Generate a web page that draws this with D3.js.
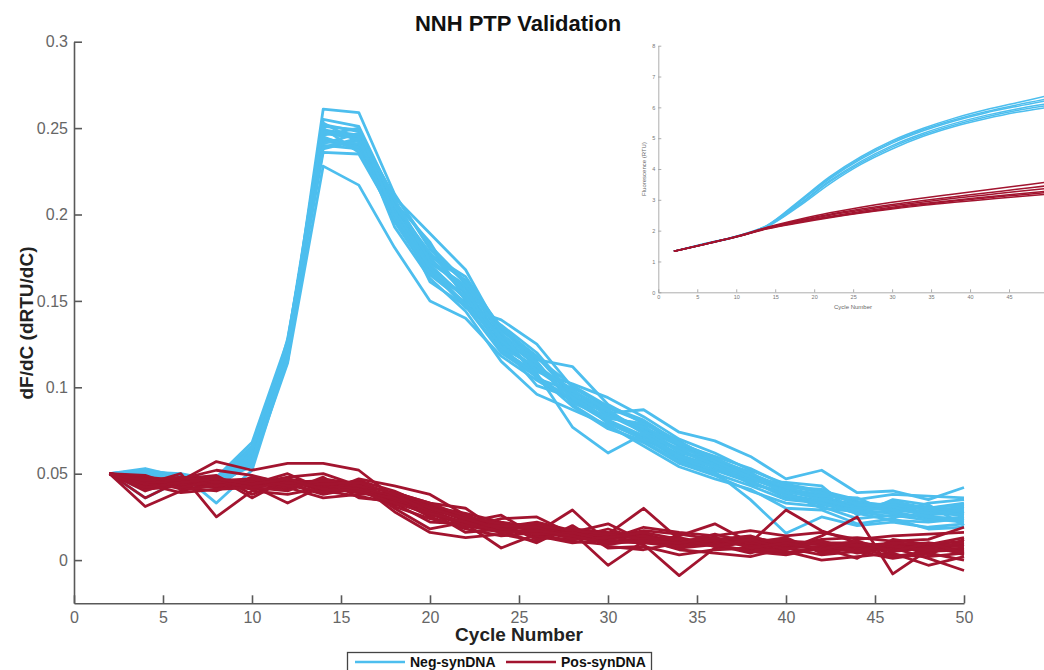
<!DOCTYPE html>
<html>
<head>
<meta charset="utf-8">
<script src="https://cdn.jsdelivr.net/npm/d3@7"></script>
<style>
  body { margin: 0; background: #fff; }
  svg { display: block; }
  text { font-family: "Liberation Sans", Arial, Helvetica, sans-serif; }
</style>
</head>
<body>
<svg id="chart" width="1044" height="670"></svg>
<script>
// cycles sampled in the derivative plot
const cycles = [2,4,6,8,10,12,14,16,18,20,22,24,26,28,30,32,34,36,38,40,42,44,46,48,50];
const xTicks = [0,5,10,15,20,25,30,35,40,45,50];
const yTicks = [0,0.05,0.1,0.15,0.2,0.25,0.3];
const yTickLabels = ["0","0.05","0.1","0.15","0.2","0.25","0.3"];

// dF/dC, Neg-synDNA replicates
const negSeries = [
  [.050,.052,.049,.046,.058,.119,.261,.259,.212,.180,.160,.130,.112,.098,.085,.076,.066,.058,.050,.041,.036,.032,.030,.027,.026],
  [.050,.049,.047,.044,.055,.114,.228,.217,.181,.150,.140,.118,.104,.092,.080,.070,.060,.052,.045,.038,.034,.029,.027,.025,.024],
  [.050,.036,.046,.047,.063,.122,.255,.251,.208,.176,.162,.133,.116,.112,.090,.079,.068,.057,.049,.040,.037,.031,.033,.029,.030],
  [.050,.047,.050,.033,.052,.117,.249,.246,.201,.170,.152,.122,.108,.077,.062,.073,.061,.054,.046,.036,.033,.027,.028,.024,.022],
  [.050,.051,.048,.048,.068,.127,.244,.240,.196,.165,.149,.125,.101,.094,.085,.087,.074,.069,.060,.047,.052,.039,.040,.035,.042],
  [.050,.046,.045,.042,.057,.121,.240,.238,.204,.174,.157,.128,.113,.097,.080,.071,.058,.051,.035,.0155,.025,.020,.022,.019,.021],
  [.050,.053,.048,.044,.061,.124,.236,.235,.199,.168,.146,.139,.125,.100,.088,.080,.066,.056,.048,.041,.038,.034,.031,.030,.033],
  [.050,.048,.047,.046,.064,.118,.252,.248,.210,.189,.168,.131,.115,.090,.077,.068,.056,.049,.040,.033,.031,.024,.026,.023,.025],
  [.050,.049,.046,.045,.060,.125,.247,.244,.193,.163,.144,.115,.096,.087,.078,.066,.054,.047,.041,.030,.029,.021,.024,.018,.019],
  [.050,.044,.049,.043,.056,.116,.243,.239,.206,.172,.158,.126,.109,.102,.094,.083,.070,.062,.052,.044,.040,.035,.038,.037,.036],
  [.050,.050,.048,.047,.066,.120,.238,.243,.197,.177,.164,.134,.118,.095,.086,.075,.064,.055,.044,.039,.030,.028,.025,.026,.028],
  [.050,.047,.044,.045,.059,.115,.250,.236,.203,.161,.147,.120,.106,.093,.081,.072,.059,.052,.049,.042,.036,.031,.029,.031,.027],
  [.050,.045,.047,.044,.062,.123,.246,.250,.200,.175,.154,.124,.111,.099,.083,.078,.062,.058,.051,.037,.034,.033,.030,.028,.031],
  [.050,.051,.050,.046,.054,.128,.242,.241,.207,.184,.150,.136,.120,.096,.079,.070,.065,.053,.046,.045,.043,.026,.035,.032,.020],
  [.050,.048,.049,.047,.061,.121,.248,.245,.205,.178,.155,.127,.110,.096,.084,.074,.063,.055,.047,.040,.035,.030,.029,.027,.029],
  [.050,.046,.046,.045,.059,.119,.241,.247,.202,.171,.151,.129,.114,.091,.083,.077,.067,.060,.053,.043,.039,.033,.032,.029,.026],
  [.050,.050,.047,.046,.063,.126,.253,.242,.209,.173,.159,.132,.105,.098,.087,.073,.060,.054,.045,.038,.032,.029,.034,.030,.032],
  [.050,.047,.048,.044,.058,.117,.245,.237,.198,.166,.153,.123,.112,.094,.082,.079,.069,.057,.048,.039,.037,.036,.027,.033,.035],
  [.050,.049,.045,.043,.057,.122,.239,.244,.211,.182,.161,.135,.117,.101,.089,.081,.068,.059,.050,.042,.041,.032,.031,.025,.023],
  [.050,.052,.047,.045,.065,.124,.251,.249,.200,.169,.148,.121,.107,.089,.076,.069,.057,.050,.043,.035,.033,.027,.023,.022,.024]
];

// dF/dC, Pos-synDNA replicates
const posSeries = [
  [.050,.031,.040,.044,.046,.043,.045,.040,.034,.027,.020,.016,.018,.014,.012,.015,.010,.012,.009,.008,.010,.007,.006,.008,.006],
  [.050,.048,.046,.057,.052,.056,.056,.052,.036,.025,.018,.014,.016,.029,.010,.013,.009,.011,.013,.010,.006,.009,.005,.007,.009],
  [.050,.044,.050,.025,.040,.038,.042,.039,.038,.032,.024,.020,.013,.012,.015,.030,.012,.008,.006,.004,.008,.011,.003,.002,.004],
  [.050,.046,.043,.047,.045,.041,.047,.044,.035,.029,.025,.019,.022,.017,.011,.010,.014,.021,.010,.029,.017,.010,.008,.009,.011],
  [.050,.040,.047,.049,.038,.046,.040,.037,.033,.022,.021,.007,.015,.011,.009,.012,.006,.004,.002,.007,.003,.005,.001,.004,.000],
  [.050,.045,.044,.042,.043,.033,.043,.046,.040,.031,.027,.022,.019,.016,-.003,.011,.008,.010,.012,.009,.011,.006,.009,.010,.008],
  [.050,.042,.048,.046,.047,.044,.038,.042,.037,.028,.016,.018,.020,.014,.014,.009,-.009,.007,.011,.012,.005,.008,.010,.003,.012],
  [.050,.047,.041,.043,.044,.048,.050,.043,.032,.030,.023,.021,.012,.018,.016,.014,.011,.013,.008,.006,.014,.025,-.008,.006,.005],
  [.050,.043,.045,.045,.041,.042,.036,.038,.039,.033,.030,.016,.017,.013,.018,.012,.013,.009,.004,.011,.009,.004,.007,.001,-.006],
  [.050,.049,.042,.040,.048,.045,.046,.041,.031,.024,.019,.024,.025,.015,.013,.017,.015,.012,.014,.008,.012,.013,.011,.012,.019],
  [.050,.036,.046,.048,.036,.047,.044,.045,.030,.018,.022,.017,.010,.020,.007,.008,.003,.006,.007,.005,.000,.002,.004,-.003,.002],
  [.050,.044,.039,.041,.042,.040,.048,.036,.034,.026,.022,.026,.014,.010,.012,.019,.016,.014,.017,.014,.016,.012,.014,.015,.016],
  [.050,.046,.047,.052,.049,.044,.039,.047,.043,.038,.026,.019,.021,.016,.021,.011,.007,.009,.005,.003,.007,.001,.012,.009,.003],
  [.050,.041,.043,.045,.044,.050,.041,.044,.028,.016,.013,.015,.011,.019,.008,.006,.010,.015,.010,.013,.004,.007,.002,.005,.007],
  [.050,.045,.045,.046,.045,.044,.045,.042,.037,.031,.023,.019,.018,.015,.014,.013,.011,.010,.009,.010,.009,.008,.007,.008,.008],
  [.050,.043,.044,.044,.043,.046,.043,.041,.035,.029,.021,.017,.016,.013,.012,.014,.009,.011,.010,.007,.008,.006,.009,.005,.006],
  [.050,.047,.046,.043,.046,.042,.046,.043,.039,.033,.025,.021,.020,.017,.015,.012,.012,.009,.011,.011,.010,.010,.006,.007,.010],
  [.050,.044,.042,.046,.042,.045,.042,.039,.036,.030,.024,.018,.015,.016,.011,.010,.008,.012,.008,.009,.007,.009,.008,.006,.005],
  [.050,.046,.048,.045,.047,.043,.044,.045,.038,.028,.020,.020,.019,.012,.013,.016,.012,.008,.012,.006,.011,.005,.010,.009,.013],
  [.050,.042,.045,.047,.044,.047,.041,.040,.033,.027,.022,.016,.017,.014,.010,.011,.010,.013,.007,.010,.006,.011,.005,.010,.004]
];

// inset: raw fluorescence (RTU)
const insetCycles = [2,6,10,14,18,22,26,30,34,38,42,46,50];
const insetXTicks = [0,5,10,15,20,25,30,35,40,45];
const insetYTicks = [0,1,2,3,4,5,6,7,8];
const insetNeg = [
  [1.33,1.58,1.82,2.18,2.95,3.75,4.40,4.92,5.32,5.65,5.92,6.15,6.38],
  [1.33,1.57,1.80,2.15,2.85,3.62,4.25,4.76,5.16,5.48,5.74,5.95,6.12],
  [1.33,1.57,1.81,2.16,2.90,3.68,4.32,4.84,5.24,5.56,5.82,6.03,6.22],
  [1.33,1.56,1.79,2.13,2.78,3.52,4.15,4.65,5.06,5.38,5.63,5.84,6.00],
  [1.33,1.56,1.80,2.14,2.82,3.58,4.20,4.71,5.11,5.43,5.69,5.90,6.06],
  [1.33,1.58,1.82,2.17,2.92,3.71,4.36,4.88,5.28,5.60,5.86,6.08,6.28]
];
const insetPos = [
  [1.33,1.57,1.81,2.10,2.33,2.53,2.70,2.85,2.98,3.10,3.22,3.34,3.46],
  [1.33,1.56,1.80,2.08,2.28,2.46,2.62,2.76,2.88,2.99,3.09,3.19,3.28],
  [1.33,1.57,1.81,2.11,2.36,2.58,2.76,2.92,3.06,3.19,3.32,3.45,3.58],
  [1.33,1.56,1.79,2.06,2.25,2.42,2.57,2.70,2.82,2.92,3.01,3.10,3.18],
  [1.33,1.57,1.80,2.09,2.31,2.50,2.66,2.81,2.93,3.05,3.16,3.27,3.37],
  [1.33,1.56,1.80,2.07,2.27,2.44,2.59,2.73,2.85,2.96,3.06,3.15,3.24]
];

const negColor = "#4dbeee", posColor = "#a2142f", axisColor = "#595959";

const svg = d3.select("#chart");

const x = d3.scaleLinear().domain([0, 50]).range([74, 964]);
const y = d3.scaleLinear().domain([-0.025, 0.3]).range([603.3, 41.7]);

// main axes
const gx = svg.append("g")
    .attr("transform", "translate(0," + y(-0.025) + ")")
    .call(d3.axisBottom(x).tickValues(xTicks).tickFormat(d3.format("d")).tickSize(-8).tickSizeOuter(0).tickPadding(8));
const gy = svg.append("g")
    .attr("transform", "translate(" + x(0) + ",0)")
    .call(d3.axisLeft(y).tickValues(yTicks).tickFormat((d, i) => yTickLabels[i]).tickSize(-8).tickSizeOuter(0).tickPadding(6));
svg.selectAll(".domain, .tick line").style("stroke", axisColor).style("stroke-width", 1.6);
gx.selectAll("text").style("font-size", "16px").style("fill", "#666");
gy.selectAll("text").style("font-size", "16px").style("fill", "#666");

// derivative curves
const line = d3.line().x((d, i) => x(cycles[i])).y(d => y(d));
svg.append("g").selectAll("path")
    .data(negSeries)
  .enter().append("path")
    .attr("d", line)
    .style("fill", "none").style("stroke", negColor).style("stroke-width", 2.8)
    .style("stroke-linejoin", "round");
svg.append("g").selectAll("path")
    .data(posSeries)
  .enter().append("path")
    .attr("d", line)
    .style("fill", "none").style("stroke", posColor).style("stroke-width", 2.8)
    .style("stroke-linejoin", "round");

// titles
svg.append("text")
    .attr("x", 518).attr("y", 31)
    .attr("text-anchor", "middle")
    .style("font-size", "22px").style("font-weight", "bold").style("fill", "#111")
    .text("NNH PTP Validation");
svg.append("text")
    .attr("x", 519).attr("y", 641)
    .attr("text-anchor", "middle")
    .style("font-size", "19px").style("font-weight", "bold").style("fill", "#222")
    .text("Cycle Number");
svg.append("text")
    .attr("transform", "translate(33,323) rotate(-90)")
    .attr("text-anchor", "middle")
    .style("font-size", "19px").style("font-weight", "bold").style("fill", "#222")
    .text("dF/dC (dRTU/dC)");

// inset plot
const xi = d3.scaleLinear().domain([0, 50]).range([658.3, 1048]);
const yi = d3.scaleLinear().domain([0, 8]).range([292.3, 45.7]);
const inset = svg.append("g");
const gxi = inset.append("g")
    .attr("transform", "translate(0," + yi(0) + ")")
    .call(d3.axisBottom(xi).tickValues(insetXTicks).tickSize(-3).tickSizeOuter(0).tickPadding(3));
const gyi = inset.append("g")
    .attr("transform", "translate(" + xi(0) + ",0)")
    .call(d3.axisLeft(yi).tickValues(insetYTicks).tickSize(-3).tickSizeOuter(0).tickPadding(3));
inset.selectAll(".domain, .tick line").style("stroke", "#999").style("stroke-width", 0.8);
inset.selectAll("text").style("font-size", "5.5px").style("fill", "#777");

const iline = d3.line().x((d, i) => xi(insetCycles[i])).y(d => yi(d)).curve(d3.curveMonotoneX);
inset.append("g").selectAll("path")
    .data(insetNeg)
  .enter().append("path")
    .attr("d", iline)
    .style("fill", "none").style("stroke", negColor).style("stroke-width", 1.5);
inset.append("g").selectAll("path")
    .data(insetPos)
  .enter().append("path")
    .attr("d", iline)
    .style("fill", "none").style("stroke", posColor).style("stroke-width", 1.5);

inset.append("text")
    .attr("x", 853).attr("y", 309)
    .attr("text-anchor", "middle")
    .style("font-size", "6px").style("fill", "#666")
    .text("Cycle Number");
inset.append("text")
    .attr("transform", "translate(646,169) rotate(-90)")
    .attr("text-anchor", "middle")
    .style("font-size", "6px").style("fill", "#666")
    .text("Fluorescence (RTU)");

// legend
const legend = svg.append("g");
legend.append("rect")
    .attr("x", 347.5).attr("y", 652.5).attr("width", 304).attr("height", 24)
    .style("fill", "#fff").style("stroke", "#444").style("stroke-width", 1.3);
const legendItems = [
  {name: "Neg-synDNA", color: negColor, x0: 355},
  {name: "Pos-synDNA", color: posColor, x0: 506}
];
legendItems.forEach(function(item) {
    legend.append("line")
        .attr("x1", item.x0).attr("x2", item.x0 + 50)
        .attr("y1", 662).attr("y2", 662)
        .style("stroke", item.color).style("stroke-width", 2.6);
    legend.append("text")
        .attr("x", item.x0 + 55).attr("y", 667)
        .style("font-size", "14px").style("font-weight", "bold").style("fill", "#111")
        .text(item.name);
});
</script>
</body>
</html>
